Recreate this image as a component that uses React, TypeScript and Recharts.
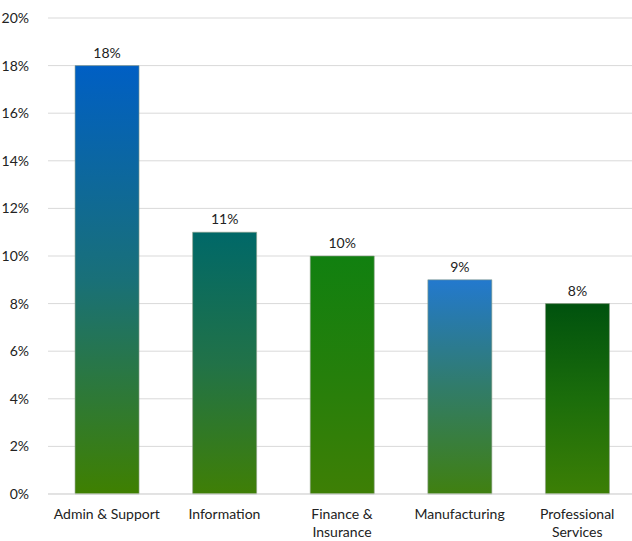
import React from 'react';
import { BarChart, Bar, XAxis, YAxis, CartesianGrid, Cell, LabelList } from 'recharts';

const categories = ['Admin & Support', 'Information', 'Finance & Insurance', 'Manufacturing', 'Professional Services'];
const shares = [18, 11, 10, 9, 8];
const tickLines = [['Admin & Support'], ['Information'], ['Finance &', 'Insurance'], ['Manufacturing'], ['Professional', 'Services']];
const yTicks = [0, 2, 4, 6, 8, 10, 12, 14, 16, 18, 20];

// top / middle / bottom colour of each bar's fill
const gradients = [
  ['#005FC4', '#197078', '#3F8000'],
  ['#006868', '#217248', '#3F7F06'],
  ['#118010', '#257F0B', '#3E7F05'],
  ['#2379CE', '#317C6A', '#408010'],
  ['#00520E', '#1B6D0B', '#3C7F05'],
];

const FONT = 'Lato, "Open Sans", sans-serif';

const rows = categories.map((name, i) => ({ name, value: shares[i] }));

const CategoryTick = (props: any) => {
  const { x, y, payload } = props;
  const lines = tickLines[payload.index] ?? [payload.value];
  return (
    <text x={x} y={y} textAnchor="middle" fill="#222" fontSize={14} fontFamily={FONT}>
      {lines.map((line, i) => (
        <tspan key={i} x={x} dy={i === 0 ? 17 : 18}>
          {line}
        </tspan>
      ))}
    </text>
  );
};

export default function App() {
  return (
    <div style={{ position: 'absolute', left: 0, top: 0, width: 632, height: 541, overflow: 'hidden', background: '#fff' }}>
      <BarChart
        width={636}
        height={541}
        data={rows}
        margin={{ top: 18, right: 0, bottom: 7, left: 0 }}
        barCategoryGap="23%"
      >
        <defs>
          {gradients.map((g, i) => (
            <linearGradient key={i} id={`barFill${i}`} x1="0" y1="0" x2="0" y2="1">
              <stop offset="0%" stopColor={g[0]} />
              <stop offset="50%" stopColor={g[1]} />
              <stop offset="100%" stopColor={g[2]} />
            </linearGradient>
          ))}
        </defs>
        <CartesianGrid vertical={false} stroke="#d9d9d9" />
        <XAxis
          dataKey="name"
          height={40}
          interval={0}
          tickLine={false}
          axisLine={{ stroke: '#d9d9d9' }}
          tick={<CategoryTick />}
        />
        <YAxis
          width={48}
          domain={[0, 20]}
          ticks={yTicks}
          tickFormatter={(v: number) => `${v}%`}
          tickLine={false}
          axisLine={false}
          tickMargin={13}
          tick={{ fill: '#222', fontSize: 14, fontFamily: FONT }}
        />
        <Bar dataKey="value" isAnimationActive={false} stroke="#8fa08a" strokeWidth={0.6}>
          {rows.map((_, i) => (
            <Cell key={i} fill={`url(#barFill${i})`} />
          ))}
          <LabelList
            dataKey="value"
            position="top"
            offset={8}
            formatter={(v: any) => `${v}%`}
            style={{ fill: '#222', fontSize: 14, fontFamily: FONT }}
          />
        </Bar>
      </BarChart>
    </div>
  );
}
